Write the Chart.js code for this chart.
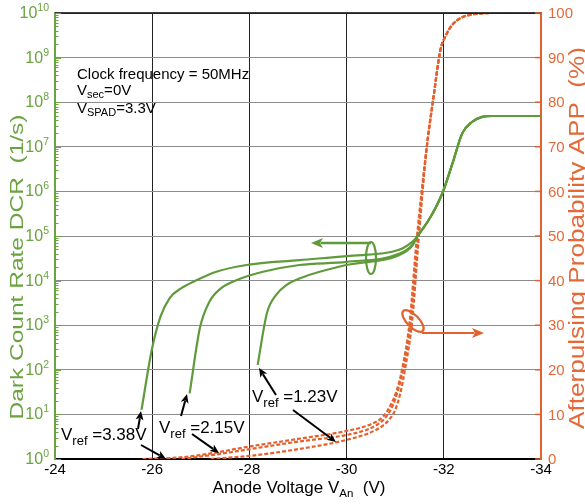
<!DOCTYPE html>
<html>
<head>
<meta charset="utf-8">
<script src="https://cdn.jsdelivr.net/npm/chart.js@4.4.0/dist/chart.umd.min.js"></script>
<style>body{margin:0;background:#fff}</style>
</head>
<body>
<canvas id="c" width="585" height="504"></canvas>
<script>
// anode voltage (V) vs dark count rate (1/s), one curve per Vref
const dcrV1 = [-25.78,-25.99,-26.17,-26.36,-26.60,-26.91,-27.32,-27.94,-29.03,-30.00,-31.08,-31.35,-31.45];
const dcr1  = [12.6,275,1550,4070,6760,10200,15800,22400,28800,35500,49000,74000,95500];
const dcrV2 = [-26.77,-26.98,-27.18,-27.42,-27.73,-28.28,-29.03,-30.00,-31.08,-31.35,-31.45];
const dcr2  = [29.5,850,3390,6760,10200,15800,22400,26300,39800,63000,95500];
const dcrV3 = [-28.17,-28.36,-28.55,-28.76,-29.03,-30.00,-31.08,-31.35,-31.45];
const dcr3  = [129,1860,4790,7940,11200,22400,37200,60000,95500];
// common saturation part of the DCR curves
const dcrTailV = [-31.73,-31.97,-32.18,-32.38,-32.58,-32.79,-32.99,-34];
const dcrTail  = [270000,910000,4300000,2.0e7,3.6e7,4.7e7,4.9e7,4.9e7];

// afterpulsing probability (%)
const appV1 = [-25.8,-26.5,-27,-28,-29,-30,-30.5,-30.75,-30.9,-31.02,-31.14,-31.3,-31.44];
const app1  = [0,0.3,0.9,2.8,4.5,6.3,7.8,9.5,12,15,20,31,49];
const appV2 = [-26.6,-27.3,-28,-29,-30,-30.55,-30.8,-30.95,-31.06,-31.17,-31.32,-31.46];
const app2  = [0,1.0,2.2,3.9,5.4,7.2,9.3,12,15.5,20.5,31,49];
const appV3 = [-27.2,-28,-29,-30,-30.6,-30.85,-31,-31.1,-31.2,-31.35,-31.48];
const app3  = [0,0.7,2.2,4.3,6.5,8.5,11,14.5,20,31,49];
const appTailV = [-31.65,-31.78,-31.93,-32.03,-32.17,-32.37,-32.6,-33,-34];
const appTail  = [70,80.5,91.7,94.7,97.3,99,99.7,100,100];

const xTicks = [-24,-26,-28,-30,-32,-34];
const decades = [0,1,2,3,4,5,6,7,8,9,10];
const appTicks = [0,10,20,30,40,50,60,70,80,90,100];

const GREEN = '#5f9a3b', GREEN_TXT = '#6aa33f', ORANGE = '#e4602c', ORANGE_TXT = '#e36a38';
const FONT = 'Arial, "Liberation Sans", sans-serif';

function pts(xs, ys) { return xs.map((v, i) => ({x: v, y: ys[i]})); }

function greenSet(xs, ys) {
  return {data: pts(xs.concat(dcrTailV), ys.concat(dcrTail)), yAxisID: 'y',
    borderColor: GREEN, borderWidth: 2.2, showLine: true, pointRadius: 0,
    cubicInterpolationMode: 'monotone', order: 1};
}
function orangeSet(xs, ys) {
  return {data: pts(xs.concat(appTailV), ys.concat(appTail)), yAxisID: 'y2',
    borderColor: ORANGE, borderWidth: 2.2, borderDash: [4, 2], showLine: true, pointRadius: 0,
    cubicInterpolationMode: 'monotone', order: 2};
}

// text helper: parts = [text, size, dy]
function rich(ctx, parts, x, y, color, align) {
  let w = 0;
  parts.forEach(p => { ctx.font = p[1] + 'px ' + FONT; w += ctx.measureText(p[0]).width; });
  let cx = align === 'right' ? x - w : align === 'center' ? x - w / 2 : x;
  ctx.fillStyle = color; ctx.textAlign = 'left'; ctx.textBaseline = 'alphabetic';
  parts.forEach(p => {
    ctx.font = p[1] + 'px ' + FONT;
    ctx.fillText(p[0], cx, y + (p[2] || 0));
    cx += ctx.measureText(p[0]).width;
  });
}

// vertical text stretched to a given length
function vtext(ctx, s, cx, baseX, size, len, color) {
  ctx.save();
  ctx.font = size + 'px ' + FONT;
  const w = ctx.measureText(s).width;
  ctx.translate(baseX, cx);
  ctx.rotate(-Math.PI / 2);
  ctx.scale(len / w, 1);
  ctx.fillStyle = color; ctx.textAlign = 'center'; ctx.textBaseline = 'alphabetic';
  ctx.fillText(s, 0, 0);
  ctx.restore();
}

function arrow(ctx, x1, y1, x2, y2, color, lw, hl, hw) {
  const a = Math.atan2(y2 - y1, x2 - x1);
  ctx.strokeStyle = color; ctx.fillStyle = color; ctx.lineWidth = lw;
  ctx.beginPath(); ctx.moveTo(x1, y1);
  ctx.lineTo(x2 - Math.cos(a) * hl * 0.8, y2 - Math.sin(a) * hl * 0.8); ctx.stroke();
  ctx.beginPath(); ctx.moveTo(x2, y2);
  ctx.lineTo(x2 - Math.cos(a) * hl + Math.sin(a) * hw, y2 - Math.sin(a) * hl - Math.cos(a) * hw);
  ctx.lineTo(x2 - Math.cos(a) * hl * 0.75, y2 - Math.sin(a) * hl * 0.75);
  ctx.lineTo(x2 - Math.cos(a) * hl - Math.sin(a) * hw, y2 - Math.sin(a) * hl + Math.cos(a) * hw);
  ctx.closePath(); ctx.fill();
}

const decor = {
  id: 'decor',
  afterDraw(chart) {
    const {ctx, chartArea: a, scales} = chart;
    const sx = scales.x, sy = scales.y, sy2 = scales.y2;
    ctx.save();
    // top frame
    ctx.strokeStyle = '#000'; ctx.lineWidth = 1.5;
    ctx.beginPath(); ctx.moveTo(a.left, a.top); ctx.lineTo(a.right, a.top); ctx.stroke();

    // left minor/major ticks + labels
    ctx.strokeStyle = GREEN_TXT; ctx.lineWidth = 1;
    decades.forEach(d => {
      for (let m = 1; m <= 9; m++) {
        if (d === 10 && m > 1) break;
        const py = Math.round(sy.getPixelForValue(m * Math.pow(10, d))) + 0.5;
        ctx.beginPath(); ctx.moveTo(a.left, py); ctx.lineTo(a.left + (m === 1 ? 6 : 3.5), py); ctx.stroke();
      }
      const ty = sy.getPixelForValue(Math.pow(10, d));
      rich(ctx, [['10', 16, 0], [String(d), 10.5, -7]], 49, ty + 5, GREEN_TXT, 'right');
    });

    // right ticks + labels
    ctx.strokeStyle = ORANGE; ctx.lineWidth = 1.5;
    appTicks.forEach(v => {
      const py = sy2.getPixelForValue(v);
      ctx.beginPath(); ctx.moveTo(a.right - 6, py); ctx.lineTo(a.right, py); ctx.stroke();
      ctx.font = '15px ' + FONT; ctx.fillStyle = ORANGE_TXT;
      ctx.textAlign = 'left'; ctx.textBaseline = 'middle';
      ctx.fillText(String(v), a.right + 7, py + 1);
    });

    // x labels
    ctx.font = '15px ' + FONT; ctx.fillStyle = '#000';
    ctx.textAlign = 'center'; ctx.textBaseline = 'top';
    xTicks.forEach(v => ctx.fillText(String(v), sx.getPixelForValue(v), a.bottom + 3));

    // axis titles
    rich(ctx, [['Anode Voltage V', 17, 0], ['An', 11.5, 4], ['  (V)', 17, 0]], 299, 493, '#000', 'center');
    vtext(ctx, 'Dark Count Rate DCR  (1/s)', 267, 23, 19, 305, GREEN_TXT);
    vtext(ctx, 'Afterpulsing Probability APP  (%)', 238, 584, 22, 382, ORANGE_TXT);

    // conditions text
    rich(ctx, [['Clock frequency = 50MHz', 15, 0]], 77, 79, '#000', 'left');
    rich(ctx, [['V', 15, 0], ['sec', 11, 3], ['=0V', 15, 0]], 77, 95, '#000', 'left');
    rich(ctx, [['V', 15, 0], ['SPAD', 11, 3], ['=3.3V', 15, 0]], 77, 113, '#000', 'left');

    // Vref labels
    rich(ctx, [['V', 17, 0], ['ref', 13, 5], [' =3.38V', 17, 0]], 61, 440, '#000', 'left');
    rich(ctx, [['V', 17, 0], ['ref', 13, 5], [' =2.15V', 17, 0]], 159, 433, '#000', 'left');
    rich(ctx, [['V', 17, 0], ['ref', 13, 5], [' =1.23V', 17, 0]], 252, 402, '#000', 'left');

    // black arrows
    arrow(ctx, 138, 429, 141, 411, '#000', 2, 9, 4);
    arrow(ctx, 141, 445, 166, 459, '#000', 2, 9, 4);
    arrow(ctx, 181, 416, 187, 394, '#000', 2, 9, 4);
    arrow(ctx, 192, 434, 219, 453, '#000', 2, 9, 4);
    arrow(ctx, 276, 395, 259, 368, '#000', 2, 9, 4);
    arrow(ctx, 293, 410, 336, 442, '#000', 2, 9, 4);

    // green axis pointer
    ctx.lineWidth = 2.2; ctx.strokeStyle = GREEN;
    ctx.beginPath(); ctx.ellipse(371, 258, 5, 16, 0, 0, Math.PI * 2); ctx.stroke();
    arrow(ctx, 371, 243, 311, 243, GREEN, 2.5, 12, 5);
    // orange axis pointer
    ctx.lineWidth = 2.2; ctx.strokeStyle = ORANGE;
    ctx.beginPath(); ctx.ellipse(413, 321, 14, 6, 0.8, 0, Math.PI * 2); ctx.stroke();
    arrow(ctx, 422, 333, 484, 333, ORANGE, 2.2, 12, 5);
    ctx.restore();
  }
};

new Chart(document.getElementById('c'), {
  type: 'scatter',
  data: {
    datasets: [
      greenSet(dcrV1, dcr1), greenSet(dcrV2, dcr2), greenSet(dcrV3, dcr3),
      orangeSet(appV1, app1), orangeSet(appV2, app2), orangeSet(appV3, app3)
    ]
  },
  options: {
    responsive: false,
    animation: false,
    layout: {padding: {left: 55, right: 44, top: 13, bottom: 45}},
    plugins: {legend: {display: false}, tooltip: {enabled: false}},
    scales: {
      x: {
        type: 'linear', min: -34, max: -24, reverse: true,
        afterBuildTicks: s => { s.ticks = xTicks.map(v => ({value: v})); },
        afterFit: s => { s.height = 0; },
        ticks: {display: false},
        grid: {color: '#222', lineWidth: 1, drawTicks: false},
        border: {color: '#000', width: 2}
      },
      y: {
        type: 'logarithmic', min: 1, max: 1e10, position: 'left',
        afterBuildTicks: s => { s.ticks = decades.map(d => ({value: Math.pow(10, d)})); },
        afterFit: s => { s.width = 0; },
        ticks: {display: false},
        grid: {color: '#8c8c8c', lineWidth: 1, drawTicks: false},
        border: {color: GREEN_TXT, width: 2}
      },
      y2: {
        type: 'linear', min: 0, max: 100, position: 'right',
        afterFit: s => { s.width = 0; },
        ticks: {display: false},
        grid: {display: false, drawTicks: false},
        border: {color: ORANGE, width: 2}
      }
    }
  },
  plugins: [decor]
});
</script>
</body>
</html>
